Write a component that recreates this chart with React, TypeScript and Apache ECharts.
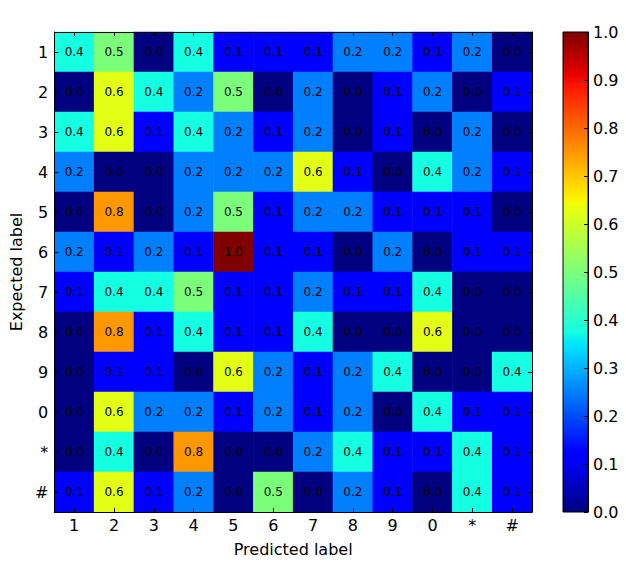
import React, { useEffect, useRef } from "react";
import * as echarts from "echarts";

const categories = ["1", "2", "3", "4", "5", "6", "7", "8", "9", "0", "*", "#"];

// rows: expected label, columns: predicted label
const row1 = [0.375, 0.5, 0, 0.375, 0.125, 0.125, 0.125, 0.25, 0.25, 0.125, 0.25, 0];
const row2 = [0, 0.625, 0.375, 0.25, 0.5, 0, 0.25, 0, 0.125, 0.25, 0, 0.125];
const row3 = [0.375, 0.625, 0.125, 0.375, 0.25, 0.125, 0.25, 0, 0.125, 0, 0.25, 0];
const row4 = [0.25, 0, 0, 0.25, 0.25, 0.25, 0.625, 0.125, 0, 0.375, 0.25, 0.125];
const row5 = [0, 0.75, 0, 0.25, 0.5, 0.125, 0.25, 0.25, 0.125, 0.125, 0.125, 0];
const row6 = [0.25, 0.125, 0.25, 0.125, 1, 0.125, 0.125, 0, 0.25, 0, 0.125, 0.125];
const row7 = [0.125, 0.375, 0.375, 0.5, 0.125, 0.125, 0.25, 0.125, 0.125, 0.375, 0, 0];
const row8 = [0, 0.75, 0.125, 0.375, 0.125, 0.125, 0.375, 0, 0, 0.625, 0, 0];
const row9 = [0, 0.125, 0.125, 0, 0.625, 0.25, 0.125, 0.25, 0.375, 0, 0, 0.375];
const row0 = [0, 0.625, 0.25, 0.25, 0.125, 0.25, 0.125, 0.25, 0, 0.375, 0.125, 0.125];
const rowStar = [0, 0.375, 0, 0.75, 0, 0, 0.25, 0.375, 0.125, 0.125, 0.375, 0.125];
const rowHash = [0.125, 0.625, 0.125, 0.25, 0, 0.5, 0, 0.25, 0.125, 0, 0.375, 0.125];

const rows = [row1, row2, row3, row4, row5, row6, row7, row8, row9, row0, rowStar, rowHash];

const colorbarTicks = [0, 0.1, 0.2, 0.3, 0.4, 0.5, 0.6, 0.7, 0.8, 0.9, 1.0];

// matplotlib "jet" segment data
const JET_R: number[][] = [[0, 0], [0.35, 0], [0.66, 1], [0.89, 1], [1, 0.5]];
const JET_G: number[][] = [[0, 0], [0.125, 0], [0.375, 1], [0.64, 1], [0.91, 0], [1, 0]];
const JET_B: number[][] = [[0, 0.5], [0.11, 1], [0.34, 1], [0.65, 0], [1, 0]];

function seg(pts: number[][], x: number): number {
  for (let i = 1; i < pts.length; i++) {
    if (x <= pts[i][0]) {
      const [x0, y0] = pts[i - 1];
      const [x1, y1] = pts[i];
      return y0 + ((y1 - y0) * (x - x0)) / (x1 - x0);
    }
  }
  return pts[pts.length - 1][1];
}
function jet(x: number): string {
  const r = Math.round(seg(JET_R, x) * 255);
  const g = Math.round(seg(JET_G, x) * 255);
  const b = Math.round(seg(JET_B, x) * 255);
  return `rgb(${r},${g},${b})`;
}

function fmt(v: number): string {
  const x = v * 10;
  const f = Math.floor(x);
  let n: number;
  if (Math.abs(x - f - 0.5) < 1e-9) n = f % 2 === 0 ? f : f + 1;
  else n = Math.round(x);
  return (n / 10).toFixed(1);
}

const FONT = "DejaVu Sans";

export default function App() {
  const ref = useRef<HTMLDivElement>(null);
  useEffect(() => {
    document.body.style.margin = "0";
    if (!ref.current) return;
    const chart = echarts.init(ref.current, undefined, { renderer: "svg" });

    const heatData: number[][] = [];
    rows.forEach((row, yi) => row.forEach((v, xi) => heatData.push([xi, yi, v])));

    const samples: string[] = [];
    for (let i = 0; i <= 200; i++) samples.push(jet(i / 200));

    const breaks = [0, 0.11, 0.125, 0.34, 0.35, 0.375, 0.64, 0.65, 0.66, 0.89, 0.91, 1];
    const stops = breaks.map((o) => ({ offset: o, color: jet(o) }));

    const tickCommon = {
      show: true,
      inside: true,
      length: 4,
      alignWithLabel: true,
      lineStyle: { color: "#000", width: 1 },
    };
    const lineCommon = { show: true, lineStyle: { color: "#000", width: 1 } };

    chart.setOption({
      animation: false,
      backgroundColor: "#fff",
      textStyle: { fontFamily: FONT },
      grid: [
        { left: 52, top: 32, width: 480, height: 480 },
        { left: 563, top: 32, width: 25, height: 480 },
      ],
      visualMap: {
        show: false,
        type: "continuous",
        min: 0,
        max: 1,
        seriesIndex: 0,
        inRange: { color: samples },
      },
      xAxis: [
        {
          type: "category",
          gridIndex: 0,
          data: categories,
          position: "bottom",
          z: 5,
          axisTick: tickCommon,
          axisLine: lineCommon,
          axisLabel: { color: "#000", fontSize: 16, margin: 5, fontFamily: FONT },
          splitLine: { show: false },
          name: "Predicted label",
          nameLocation: "middle",
          nameGap: 29,
          nameTextStyle: { color: "#000", fontSize: 16, fontFamily: FONT },
        },
        {
          type: "category",
          gridIndex: 0,
          data: categories,
          position: "top",
          z: 5,
          axisTick: tickCommon,
          axisLine: lineCommon,
          axisLabel: { show: false },
        },
        {
          type: "category",
          gridIndex: 1,
          data: ["c"],
          show: false,
        },
      ],
      yAxis: [
        {
          type: "category",
          gridIndex: 0,
          data: categories,
          inverse: true,
          position: "left",
          z: 5,
          axisTick: tickCommon,
          axisLine: lineCommon,
          axisLabel: { color: "#000", fontSize: 16, margin: 6, fontFamily: FONT },
          name: "Expected label",
          nameLocation: "middle",
          nameGap: 25,
          nameRotate: 90,
          nameTextStyle: { color: "#000", fontSize: 16, fontFamily: FONT },
        },
        {
          type: "category",
          gridIndex: 0,
          data: categories,
          inverse: true,
          position: "right",
          z: 5,
          axisTick: tickCommon,
          axisLine: lineCommon,
          axisLabel: { show: false },
        },
        {
          type: "value",
          gridIndex: 1,
          min: 0,
          max: 1,
          interval: 0.1,
          position: "right",
          z: 5,
          axisTick: { show: true, inside: true, length: 4, lineStyle: { color: "#000" } },
          axisLine: lineCommon,
          splitLine: { show: false },
          axisLabel: {
            color: "#000",
            fontSize: 16,
            margin: 5,
            fontFamily: FONT,
            formatter: (v: number) => {
              const t = colorbarTicks.find((c) => Math.abs(c - v) < 1e-6);
              return t === undefined ? "" : t.toFixed(1);
            },
          },
        },
      ],
      series: [
        {
          type: "heatmap",
          xAxisIndex: 0,
          yAxisIndex: 0,
          data: heatData,
          label: {
            show: true,
            color: "#000",
            fontSize: 12,
            fontFamily: FONT,
            formatter: (p: any) => fmt(p.value[2]),
          },
          itemStyle: { borderWidth: 0 },
          emphasis: { disabled: true },
          z: 1,
        },
        {
          type: "custom",
          xAxisIndex: 2,
          yAxisIndex: 2,
          data: [[0, 1]],
          silent: true,
          z: 1,
          renderItem: (params: any, api: any) => {
            const p0 = api.coord([0, 0]);
            const p1 = api.coord([0, 1]);
            const sz = api.size([1, 0]);
            return {
              type: "rect",
              shape: { x: p0[0] - sz[0] / 2, y: p1[1], width: sz[0], height: p0[1] - p1[1] },
              style: {
                fill: new echarts.graphic.LinearGradient(0, 1, 0, 0, stops),
                stroke: "#000",
                lineWidth: 1,
              },
            };
          },
        },
      ],
    });
    return () => chart.dispose();
  }, []);
  return <div ref={ref} style={{ width: 626, height: 570 }} />;
}
